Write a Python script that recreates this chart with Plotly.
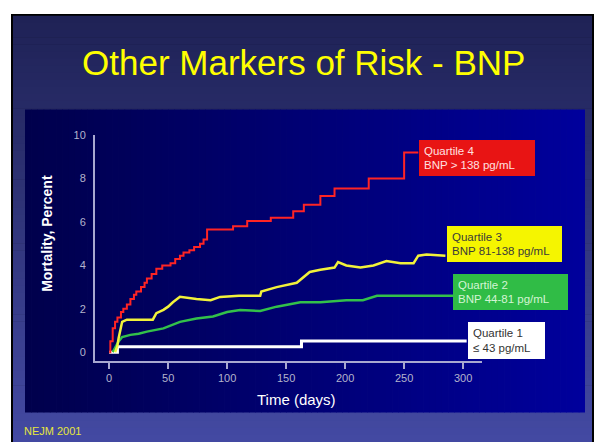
import plotly.graph_objects as go

W, H = 594, 442

# Kaplan-Meier style mortality curves (days, percent)
q4_days = [0, 1, 3, 5, 7, 10, 12, 15, 18, 21, 23, 27, 30, 32, 36, 40, 45, 52, 56, 60, 63, 68, 72,
           77, 80, 83, 105, 117, 137, 156, 165, 179, 191, 220, 250, 262]
q4_vals = [0, 0.5, 1.1, 1.4, 1.6, 1.85, 2.0, 2.2, 2.45, 2.65, 2.8, 3.0, 3.2, 3.4, 3.6, 3.85, 4.0, 4.1,
           4.3, 4.45, 4.6, 4.7, 4.85, 5.0, 5.2, 5.65, 5.8, 6.05, 6.2, 6.5, 6.8, 7.2, 7.55, 8.0, 9.2, 9.2]

q3_days = [5, 7, 8, 10, 11, 15, 25, 37, 40, 46, 50, 54, 60, 67, 74, 86, 94, 110, 128, 129, 142, 159,
           170, 179, 191, 194, 201, 213, 224, 235, 247, 258, 262, 269, 285]
q3_vals = [0, 0.3, 0.65, 1.1, 1.4, 1.5, 1.5, 1.5, 1.8, 1.95, 2.1, 2.3, 2.55, 2.5, 2.45, 2.4, 2.55, 2.6,
           2.6, 2.8, 3.0, 3.2, 3.7, 3.8, 3.9, 4.15, 4.0, 3.9, 4.0, 4.2, 4.1, 4.1, 4.45, 4.5, 4.45]

q2_days = [3, 6, 8, 11, 18, 25, 32, 46, 53, 60, 74, 88, 100, 111, 128, 142, 162, 179, 201, 215, 227, 247, 292]
q2_vals = [0, 0.3, 0.5, 0.7, 0.8, 0.85, 0.95, 1.1, 1.25, 1.4, 1.55, 1.65, 1.85, 1.95, 1.9, 2.1, 2.3,
           2.3, 2.4, 2.4, 2.6, 2.6, 2.6]

q1_days = [0, 7, 163, 303]
q1_vals = [0, 0.25, 0.52, 0.52]

x_ticks = [0, 50, 100, 150, 200, 250, 300]
y_ticks = [0, 2, 4, 6, 8, 10]

title_text = "Other Markers of Risk - BNP"
x_title = "Time (days)"
y_title = "Mortality, Percent"
source_text = "NEJM 2001"

legend_labels = [
    "Quartile 4<br>BNP > 138 pg/mL",
    "Quartile 3<br>BNP 81-138 pg/mL",
    "Quartile 2<br>BNP 44-81 pg/mL",
    "Quartile 1<br>≤ 43 pg/mL",
]


def px(x):
    return x / W


def py(y):
    return 1 - y / H


def lerp(c0, c1, t):
    return "rgb(%d,%d,%d)" % tuple(round(a + (b - a) * t) for a, b in zip(c0, c1))


shapes = []
# white page with black slide border
shapes.append(dict(type="rect", xref="paper", yref="paper", x0=px(11), x1=px(594), y0=py(442), y1=py(8),
                   fillcolor="black", line=dict(width=0), layer="below"))
# slide background: vertical gradient
n = 60
top, bot = 10, 442
for i in range(n):
    y0 = top + (bot - top) * i / n
    y1 = top + (bot - top) * (i + 1) / n + 0.6
    shapes.append(dict(type="rect", xref="paper", yref="paper", x0=px(13), x1=px(592),
                       y0=py(min(y1, bot)), y1=py(y0),
                       fillcolor=lerp((31, 34, 86), (67, 73, 162), i / (n - 1)),
                       line=dict(width=0), layer="below"))
# chart panel: horizontal gradient
n = 90
left, right = 25, 585
for i in range(n):
    x0 = left + (right - left) * i / n
    x1 = left + (right - left) * (i + 1) / n + 0.6
    shapes.append(dict(type="rect", xref="paper", yref="paper", x0=px(x0), x1=px(min(x1, right)),
                       y0=py(412), y1=py(105),
                       fillcolor=lerp((0, 0, 76), (0, 0, 156), i / (n - 1)),
                       line=dict(width=0), layer="below"))

fig = go.Figure()
fig.add_trace(go.Scatter(x=q1_days, y=q1_vals, mode="lines", line=dict(color="#ffffff", width=3, shape="hv")))
fig.add_trace(go.Scatter(x=q2_days, y=q2_vals, mode="lines", line=dict(color="#33c04a", width=2.5)))
fig.add_trace(go.Scatter(x=q3_days, y=q3_vals, mode="lines", line=dict(color="#f2f23a", width=2.5)))
fig.add_trace(go.Scatter(x=q4_days, y=q4_vals, mode="lines", line=dict(color="#ff2424", width=2, shape="hv")))

axis_col = "#a8a8d0"
tick_font = dict(family="Liberation Sans, Arial", size=11, color="#b4b4cc")

annotations = [
    dict(text=title_text, x=px(303), y=py(57), xref="paper", yref="paper", showarrow=False,
         font=dict(family="Liberation Sans, Arial", size=35, color="#ffff00"), xanchor="center", yanchor="middle"),
    dict(text=source_text, x=px(22), y=py(431), xref="paper", yref="paper", showarrow=False,
         font=dict(family="Liberation Sans, Arial", size=11, color="#e6e63c"), xanchor="left", yanchor="middle"),
    dict(text=x_title, x=px(296), y=py(399), xref="paper", yref="paper", showarrow=False,
         font=dict(family="Liberation Sans, Arial", size=15, color="#ffffff"), xanchor="center", yanchor="middle"),
    dict(text="<b>" + y_title + "</b>", x=px(47), y=py(231), xref="paper", yref="paper", showarrow=False,
         textangle=-90, font=dict(family="Liberation Sans, Arial", size=14, color="#ffffff"),
         xanchor="center", yanchor="middle"),
]

# legend boxes: (left, top, width, height) in pixels, fill, text colour
boxes = [
    (419, 136, 116, 36, "#e81414", "#ffe0e0"),
    (447, 223, 115, 36, "#f5f500", "#3a3a3a"),
    (453, 272, 115, 36, "#30bc46", "#d4f4d4"),
    (468, 320, 77, 37, "#ffffff", "#333333"),
]
for label, (bx, by, bw, bh, fill, tcol) in zip(legend_labels, boxes):
    pad = 5
    annotations.append(dict(text=label, x=px(bx), y=py(by), xref="paper", yref="paper", showarrow=False,
                            xanchor="left", yanchor="top", align="left", valign="middle",
                            width=bw - 2 * pad, height=bh - 2 * pad, borderpad=pad, borderwidth=0,
                            bgcolor=fill, font=dict(family="Liberation Sans, Arial", size=11.5, color=tcol)))

fig.update_layout(
    width=W, height=H, margin=dict(l=0, r=0, t=0, b=0),
    paper_bgcolor="#ffffff", plot_bgcolor="rgba(0,0,0,0)",
    showlegend=False, shapes=shapes, annotations=annotations,
    xaxis=dict(domain=[px(95), px(482)], range=[-12, 316], tickvals=x_ticks, showgrid=False, zeroline=False,
               showline=True, linecolor=axis_col, linewidth=2, ticks="outside", ticklen=6, tickwidth=2,
               tickcolor=axis_col, tickfont=tick_font, fixedrange=True),
    yaxis=dict(domain=[py(360), py(131)], range=[-0.41, 10], tickvals=y_ticks, showgrid=False, zeroline=False,
               showline=True, linecolor=axis_col, linewidth=2, ticks="", ticklabelstandoff=5,
               tickfont=tick_font, fixedrange=True),
)

fig.write_html("out.html")
